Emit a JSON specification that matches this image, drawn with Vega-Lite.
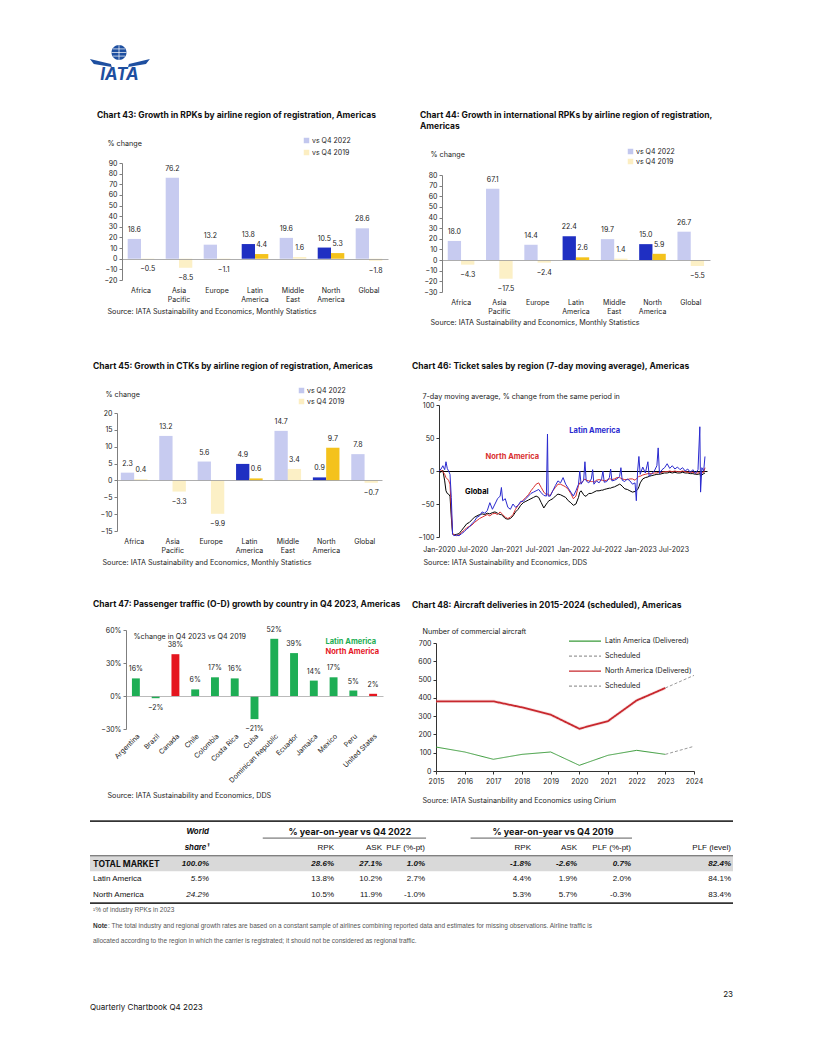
{
"$schema":"https://vega.github.io/schema/vega-lite/v6.json",
"padding":0,
"background":"white",
"columns":4,
"align":"none",
"bounds":"flush",
"spacing":0,
"resolve":{"scale":{"color":"independent","strokeDash":"independent","opacity":"independent"},"legend":{"color":"independent","strokeDash":"independent"}},
"config":{
 "view":{"stroke":null},
 "font":"Inter",
 "axis":{"labelFontSize":7,"labelColor":"#222","titleColor":"#222","titleFontSize":7.2,"titleFontWeight":"normal","domainColor":"#7f7f7f","tickColor":"#7f7f7f","tickSize":3,"grid":false,"labelPadding":2},
 "legend":{"labelFontSize":7,"labelColor":"#222"},
 "title":{"fontSize":8.5,"fontWeight":"bold","anchor":"start","frame":"group","color":"#111"},
 "text":{"fontSize":7,"color":"#222"},
 "point":{"opacity":1}
},
"concat":[
 {"width":117,"height":1,"data":{"values":[]},"mark":"point"},
 {"width":1,"height":114,"data":{"values":[{}]},"layer":[
   {"mark":{"type":"point","shape":"M-0.92,0.07L-0.22,0.23L-0.19,0.33L-0.79,0.23ZM1.08,0.07L0.38,0.23L0.35,0.33L0.95,0.23Z","size":3600,"filled":true,"color":"#1E4FA0","strokeWidth":0}},
   {"mark":{"type":"point","shape":"M-0.2,-0.15A0.25,0.25 0 1,0 0.3,-0.15A0.25,0.25 0 1,0 -0.2,-0.15Z","size":3600,"filled":true,"color":"#1E4FA0","strokeWidth":0}},
   {"mark":{"type":"point","shape":"M-0.2,-0.15H0.3M0.05,-0.4V0.1M-0.16,-0.27H0.26M-0.16,-0.03H0.26","size":3600,"filled":false,"color":"white","strokeWidth":0.7}},
   {"mark":{"type":"text","text":"IATA","fontSize":17,"fontWeight":"bold","fontStyle":"italic","color":"#1E4FA0","dy":18,"dx":2}}
 ]},
 {"width":48,"height":1,"data":{"values":[]},"mark":"point"},
 {"width":1,"height":1,"data":{"values":[]},"mark":"point"},

 {"width":1,"height":1,"data":{"values":[]},"mark":"point"},
 {"width":1,"height":49,"data":{"values":[]},"mark":"point"},
 {"width":1,"height":1,"data":{"values":[]},"mark":"point"},
 {"width":1,"height":1,"data":{"values":[]},"mark":"point"},

 {"width":1,"height":1,"data":{"values":[]},"mark":"point"},
 {"width":271,"height":117,
  "title":{"text":"Chart 43: Growth in RPKs by airline region of registration, Americas","dx":-20,"offset":18},
  "data":{"values":[
   {"region":"Africa","s":"vs Q4 2022","v":18.6},{"region":"Africa","s":"vs Q4 2019","v":-0.5},
   {"region":"Asia Pacific","s":"vs Q4 2022","v":76.2},{"region":"Asia Pacific","s":"vs Q4 2019","v":-8.5},
   {"region":"Europe","s":"vs Q4 2022","v":13.2},{"region":"Europe","s":"vs Q4 2019","v":-1.1},
   {"region":"Latin America","s":"vs Q4 2022","v":13.8},{"region":"Latin America","s":"vs Q4 2019","v":4.4},
   {"region":"Middle East","s":"vs Q4 2022","v":19.6},{"region":"Middle East","s":"vs Q4 2019","v":1.6},
   {"region":"North America","s":"vs Q4 2022","v":10.5},{"region":"North America","s":"vs Q4 2019","v":5.3},
   {"region":"Global","s":"vs Q4 2022","v":28.6},{"region":"Global","s":"vs Q4 2019","v":-1.8}]},
  "encoding":{
   "x":{"field":"region","type":"nominal","sort":null,"scale":{"range":[5,271],"paddingInner":0.3,"paddingOuter":0.15},
     "axis":{"title":"Source: IATA Sustainability and Economics,  Monthly Statistics","titleX":-10,"titleY":31,"titleAlign":"left","titleAnchor":"start","titleBaseline":"middle","labelAngle":0,"labelExpr":"split(datum.label,' ')","domain":false,"ticks":false,"labelPadding":6,"labelBaseline":"top","labelLineHeight":9.5}},
   "xOffset":{"field":"s","type":"nominal","sort":["vs Q4 2022","vs Q4 2019"]},
   "y":{"field":"v","type":"quantitative","scale":{"domain":[-20,90],"nice":false,"zero":false},
     "axis":{"offset":-5,"title":"% change","titleAngle":0,"titleX":-15,"titleY":-20,"titleAlign":"left","titleAnchor":"start","titleBaseline":"middle","values":[-20,-10,0,10,20,30,40,50,60,70,80,90],"grid":true,"gridColor":"#999","gridWidth":0.8,"gridOpacity":{"condition":{"test":"datum.value===0","value":1},"value":0},"zindex":1}}
  },
  "layer":[
   {"mark":"bar","encoding":{
     "color":{"field":"s","type":"nominal","scale":{"domain":["vs Q4 2022","vs Q4 2019"],"range":["#1F2FC2","#F4C21C"]},"legend":{"title":null,"orient":"none","legendX":186,"legendY":-26,"symbolType":"square","symbolSize":30,"symbolOpacity":0.27,"symbolStrokeWidth":0,"rowPadding":4,"labelOffset":2}},
     "opacity":{"condition":{"test":"datum.region==='Latin America'||datum.region==='North America'","value":1},"value":0.25}}},
   {"transform":[{"filter":"datum.v>=0"}],"mark":{"type":"text","baseline":"bottom","dy":-6},"encoding":{"text":{"field":"v","type":"quantitative","format":".1f"}}},
   {"transform":[{"filter":"datum.v<0"}],"mark":{"type":"text","baseline":"top","dy":6},"encoding":{"text":{"field":"v","type":"quantitative","format":".1f"}}}
  ]},
 {"width":1,"height":1,"data":{"values":[]},"mark":"point"},
 {"width":274,"height":129,
  "title":{"text":["Chart 44: Growth in international RPKs by airline region of registration,","Americas"],"dx":-16,"offset":18,"lineHeight":11},
  "data":{"values":[
   {"region":"Africa","s":"vs Q4 2022","v":18.0},{"region":"Africa","s":"vs Q4 2019","v":-4.3},
   {"region":"Asia Pacific","s":"vs Q4 2022","v":67.1},{"region":"Asia Pacific","s":"vs Q4 2019","v":-17.5},
   {"region":"Europe","s":"vs Q4 2022","v":14.4},{"region":"Europe","s":"vs Q4 2019","v":-2.4},
   {"region":"Latin America","s":"vs Q4 2022","v":22.4},{"region":"Latin America","s":"vs Q4 2019","v":2.6},
   {"region":"Middle East","s":"vs Q4 2022","v":19.7},{"region":"Middle East","s":"vs Q4 2019","v":1.4},
   {"region":"North America","s":"vs Q4 2022","v":15.0},{"region":"North America","s":"vs Q4 2019","v":5.9},
   {"region":"Global","s":"vs Q4 2022","v":26.7},{"region":"Global","s":"vs Q4 2019","v":-5.5}]},
  "encoding":{
   "x":{"field":"region","type":"nominal","sort":null,"scale":{"range":[6,274],"paddingInner":0.3,"paddingOuter":0.15},
     "axis":{"title":"Source: IATA Sustainability and Economics,  Monthly Statistics","titleX":-6,"titleY":30,"titleAlign":"left","titleAnchor":"start","titleBaseline":"middle","labelAngle":0,"labelExpr":"split(datum.label,' ')","domain":false,"ticks":false,"labelPadding":6,"labelBaseline":"top","labelLineHeight":9.5}},
   "xOffset":{"field":"s","type":"nominal","sort":["vs Q4 2022","vs Q4 2019"]},
   "y":{"field":"v","type":"quantitative","scale":{"domain":[-30,80],"range":[129,12],"nice":false,"zero":false},
     "axis":{"offset":-6,"title":"% change","titleAngle":0,"titleX":-12,"titleY":-9,"titleAlign":"left","titleAnchor":"start","titleBaseline":"middle","values":[-30,-20,-10,0,10,20,30,40,50,60,70,80],"grid":true,"gridColor":"#999","gridWidth":0.8,"gridOpacity":{"condition":{"test":"datum.value===0","value":1},"value":0},"zindex":1}}
  },
  "layer":[
   {"mark":"bar","encoding":{
     "color":{"field":"s","type":"nominal","scale":{"domain":["vs Q4 2022","vs Q4 2019"],"range":["#1F2FC2","#F4C21C"]},"legend":{"title":null,"orient":"none","legendX":191,"legendY":-15,"symbolType":"square","symbolSize":30,"symbolOpacity":0.27,"symbolStrokeWidth":0,"rowPadding":2,"labelOffset":2}},
     "opacity":{"condition":{"test":"datum.region==='Latin America'||datum.region==='North America'","value":1},"value":0.25}}},
   {"transform":[{"filter":"datum.v>=0"}],"mark":{"type":"text","baseline":"bottom","dy":-6},"encoding":{"text":{"field":"v","type":"quantitative","format":".1f"}}},
   {"transform":[{"filter":"datum.v<0"}],"mark":{"type":"text","baseline":"top","dy":6},"encoding":{"text":{"field":"v","type":"quantitative","format":".1f"}}}
  ]},

 {"width":1,"height":1,"data":{"values":[]},"mark":"point"},
 {"width":1,"height":113,"data":{"values":[]},"mark":"point"},
 {"width":1,"height":1,"data":{"values":[]},"mark":"point"},
 {"width":1,"height":1,"data":{"values":[]},"mark":"point"},

 {"width":1,"height":1,"data":{"values":[]},"mark":"point"},
 {"width":265,"height":126,
  "title":{"text":"Chart 45: Growth in CTKs by airline region of registration, Americas","dx":-24,"offset":17},
  "data":{"values":[
   {"region":"Africa","s":"vs Q4 2022","v":2.3},{"region":"Africa","s":"vs Q4 2019","v":0.4},
   {"region":"Asia Pacific","s":"vs Q4 2022","v":13.2},{"region":"Asia Pacific","s":"vs Q4 2019","v":-3.3},
   {"region":"Europe","s":"vs Q4 2022","v":5.6},{"region":"Europe","s":"vs Q4 2019","v":-9.9},
   {"region":"Latin America","s":"vs Q4 2022","v":4.9},{"region":"Latin America","s":"vs Q4 2019","v":0.6},
   {"region":"Middle East","s":"vs Q4 2022","v":14.7},{"region":"Middle East","s":"vs Q4 2019","v":3.4},
   {"region":"North America","s":"vs Q4 2022","v":0.9},{"region":"North America","s":"vs Q4 2019","v":9.7},
   {"region":"Global","s":"vs Q4 2022","v":7.8},{"region":"Global","s":"vs Q4 2019","v":-0.7}]},
  "encoding":{
   "x":{"field":"region","type":"nominal","sort":null,"scale":{"paddingInner":0.3,"paddingOuter":0.1},
     "axis":{"title":"Source: IATA Sustainability and Economics,  Monthly Statistics","titleX":-15,"titleY":31,"titleAlign":"left","titleAnchor":"start","titleBaseline":"middle","labelAngle":0,"labelExpr":"split(datum.label,' ')","domain":false,"ticks":false,"labelPadding":6,"labelBaseline":"top","labelLineHeight":9.5}},
   "xOffset":{"field":"s","type":"nominal","sort":["vs Q4 2022","vs Q4 2019"]},
   "y":{"field":"v","type":"quantitative","scale":{"domain":[-15,20],"range":[126,8],"nice":false,"zero":false},
     "axis":{"title":"% change","titleAngle":0,"titleX":-12,"titleY":-11,"titleAlign":"left","titleAnchor":"start","titleBaseline":"middle","values":[-15,-10,-5,0,5,10,15,20],"grid":true,"gridColor":"#999","gridWidth":0.8,"gridOpacity":{"condition":{"test":"datum.value===0","value":1},"value":0},"zindex":1}}
  },
  "layer":[
   {"mark":"bar","encoding":{
     "color":{"field":"s","type":"nominal","scale":{"domain":["vs Q4 2022","vs Q4 2019"],"range":["#1F2FC2","#F4C21C"]},"legend":{"title":null,"orient":"none","legendX":181,"legendY":-18,"symbolType":"square","symbolSize":30,"symbolOpacity":0.27,"symbolStrokeWidth":0,"rowPadding":3,"labelOffset":2}},
     "opacity":{"condition":{"test":"datum.region==='Latin America'||datum.region==='North America'","value":1},"value":0.25}}},
   {"transform":[{"filter":"datum.v>=0"}],"mark":{"type":"text","baseline":"bottom","dy":-6},"encoding":{"text":{"field":"v","type":"quantitative","format":".1f"}}},
   {"transform":[{"filter":"datum.v<0"}],"mark":{"type":"text","baseline":"top","dy":6},"encoding":{"text":{"field":"v","type":"quantitative","format":".1f"}}}
  ]},
 {"width":1,"height":1,"data":{"values":[]},"mark":"point"},
 {"width":271,"height":132,
  "title":{"text":"Chart 46: Ticket sales by region (7-day moving average), Americas","dx":-24,"offset":22},
  "data":{"values":[
   {"d":"2020-01-01","g":0,"n":0,"l":0},{"d":"2020-01-12","g":-2,"n":2,"l":3},{"d":"2020-01-22","g":1,"n":-1,"l":8},
   {"d":"2020-02-01","g":-15,"n":-5,"l":2},{"d":"2020-02-08","g":-30,"n":-10,"l":14},{"d":"2020-02-15","g":-34,"n":-12,"l":4},
   {"d":"2020-02-22","g":-35,"n":-14,"l":0},{"d":"2020-03-01","g":-38,"n":-20,"l":-5},{"d":"2020-03-08","g":-70,"n":-60,"l":-40},
   {"d":"2020-03-15","g":-95,"n":-94,"l":-96},{"d":"2020-03-22","g":-97,"n":-97,"l":-98},{"d":"2020-04-05","g":-96,"n":-98,"l":-97},
   {"d":"2020-04-19","g":-95,"n":-97,"l":-98},{"d":"2020-05-03","g":-90,"n":-93,"l":-95},{"d":"2020-05-17","g":-85,"n":-90,"l":-92},
   {"d":"2020-05-31","g":-80,"n":-86,"l":-88},{"d":"2020-06-14","g":-78,"n":-84,"l":-85},{"d":"2020-06-28","g":-74,"n":-82,"l":-80},
   {"d":"2020-07-12","g":-70,"n":-78,"l":-76},{"d":"2020-07-26","g":-68,"n":-75,"l":-70},{"d":"2020-08-09","g":-66,"n":-72,"l":-68},
   {"d":"2020-08-23","g":-65,"n":-70,"l":-62},{"d":"2020-09-06","g":-66,"n":-68,"l":-64},{"d":"2020-09-20","g":-64,"n":-66,"l":-60},
   {"d":"2020-10-04","g":-65,"n":-68,"l":-48},{"d":"2020-10-18","g":-63,"n":-65,"l":-58},{"d":"2020-11-01","g":-62,"n":-64,"l":-50},
   {"d":"2020-11-15","g":-64,"n":-66,"l":-42},{"d":"2020-11-29","g":-66,"n":-62,"l":-38},{"d":"2020-12-06","g":-66,"n":-64,"l":-25},
   {"d":"2020-12-13","g":-68,"n":-66,"l":-45},{"d":"2020-12-27","g":-72,"n":-70,"l":-42},{"d":"2021-01-10","g":-73,"n":-72,"l":-55},
   {"d":"2021-01-24","g":-72,"n":-70,"l":-58},{"d":"2021-02-07","g":-68,"n":-66,"l":-50},{"d":"2021-02-21","g":-62,"n":-58,"l":-55},
   {"d":"2021-03-07","g":-58,"n":-52,"l":-52},{"d":"2021-03-21","g":-52,"n":-48,"l":-46},{"d":"2021-04-04","g":-48,"n":-44,"l":-46},
   {"d":"2021-04-18","g":-46,"n":-40,"l":-42},{"d":"2021-05-02","g":-44,"n":-36,"l":-38},{"d":"2021-05-16","g":-42,"n":-30,"l":-34},
   {"d":"2021-05-30","g":-40,"n":-25,"l":-32},{"d":"2021-06-13","g":-38,"n":-20,"l":-30},{"d":"2021-06-27","g":-40,"n":-18,"l":-28},
   {"d":"2021-07-11","g":-48,"n":-25,"l":-33},{"d":"2021-07-25","g":-56,"n":-32,"l":-37},{"d":"2021-08-08","g":-50,"n":-36,"l":-38},
   {"d":"2021-08-14","g":-48,"n":-35,"l":56},{"d":"2021-08-18","g":-46,"n":-36,"l":-38},{"d":"2021-08-29","g":-44,"n":-37,"l":-38},
   {"d":"2021-09-12","g":-42,"n":-30,"l":-30},{"d":"2021-09-26","g":-38,"n":-25,"l":-22},{"d":"2021-10-10","g":-35,"n":-20,"l":-15},
   {"d":"2021-10-24","g":-36,"n":-20,"l":-18},{"d":"2021-11-07","g":-38,"n":-22,"l":-10},{"d":"2021-11-21","g":-40,"n":-24,"l":-20},
   {"d":"2021-12-05","g":-45,"n":-28,"l":-26},{"d":"2021-12-19","g":-48,"n":-34,"l":-32},{"d":"2022-01-02","g":-52,"n":-42,"l":-38},
   {"d":"2022-01-16","g":-50,"n":-38,"l":-30},{"d":"2022-01-30","g":-40,"n":-22,"l":-20},{"d":"2022-02-06","g":-32,"n":-18,"l":0},
   {"d":"2022-02-13","g":-30,"n":-18,"l":-20},{"d":"2022-02-27","g":-36,"n":-14,"l":-14},{"d":"2022-03-06","g":-38,"n":-12,"l":14},
   {"d":"2022-03-13","g":-38,"n":-14,"l":-15},{"d":"2022-03-27","g":-34,"n":-15,"l":-18},{"d":"2022-04-10","g":-34,"n":-16,"l":-12},
   {"d":"2022-04-17","g":-33,"n":-16,"l":2},{"d":"2022-04-24","g":-32,"n":-17,"l":-20},{"d":"2022-05-08","g":-30,"n":-14,"l":-15},
   {"d":"2022-05-22","g":-30,"n":-13,"l":-18},{"d":"2022-06-05","g":-29,"n":-14,"l":-12},{"d":"2022-06-12","g":-29,"n":-14,"l":0},
   {"d":"2022-06-19","g":-28,"n":-15,"l":-17},{"d":"2022-07-03","g":-27,"n":-14,"l":-16},{"d":"2022-07-17","g":-26,"n":-12,"l":-10},
   {"d":"2022-07-24","g":-26,"n":-12,"l":3},{"d":"2022-07-31","g":-25,"n":-13,"l":-15},{"d":"2022-08-14","g":-24,"n":-12,"l":-14},
   {"d":"2022-08-28","g":-22,"n":-10,"l":-12},{"d":"2022-09-11","g":-20,"n":-10,"l":-8},{"d":"2022-09-18","g":-21,"n":-11,"l":5},
   {"d":"2022-09-25","g":-23,"n":-12,"l":-14},{"d":"2022-10-09","g":-27,"n":-13,"l":-16},{"d":"2022-10-23","g":-28,"n":-13,"l":-12},
   {"d":"2022-11-06","g":-30,"n":-12,"l":-15},{"d":"2022-11-20","g":-32,"n":-12,"l":-20},{"d":"2022-12-04","g":-31,"n":-14,"l":-18},
   {"d":"2022-12-11","g":-30,"n":-12,"l":-45},{"d":"2022-12-18","g":-28,"n":-10,"l":0},{"d":"2022-12-25","g":-24,"n":-8,"l":22},
   {"d":"2023-01-01","g":-18,"n":-8,"l":-5},{"d":"2023-01-15","g":-12,"n":-6,"l":6},{"d":"2023-01-29","g":-10,"n":-5,"l":-3},
   {"d":"2023-02-12","g":-9,"n":-4,"l":14},{"d":"2023-02-19","g":-8,"n":-4,"l":-8},{"d":"2023-03-05","g":-7,"n":-4,"l":-4},
   {"d":"2023-03-19","g":-6,"n":-3,"l":0},{"d":"2023-04-02","g":-5,"n":-3,"l":8},{"d":"2023-04-09","g":-5,"n":-2,"l":35},
   {"d":"2023-04-16","g":-5,"n":-3,"l":-4},{"d":"2023-04-30","g":-4,"n":-2,"l":2},{"d":"2023-05-14","g":-3,"n":-1,"l":5},
   {"d":"2023-05-28","g":-3,"n":-1,"l":11},{"d":"2023-06-11","g":-2,"n":0,"l":4},{"d":"2023-06-25","g":-3,"n":-1,"l":8},
   {"d":"2023-07-09","g":-2,"n":0,"l":3},{"d":"2023-07-23","g":-3,"n":-1,"l":6},{"d":"2023-08-06","g":-3,"n":-1,"l":2},
   {"d":"2023-08-20","g":-2,"n":0,"l":5},{"d":"2023-09-03","g":-3,"n":-1,"l":0},{"d":"2023-09-17","g":-3,"n":-2,"l":3},
   {"d":"2023-10-01","g":-4,"n":-2,"l":-2},{"d":"2023-10-15","g":-4,"n":-2,"l":2},{"d":"2023-10-29","g":-5,"n":-3,"l":-4},
   {"d":"2023-11-12","g":-5,"n":-3,"l":2},{"d":"2023-11-22","g":-4,"n":-2,"l":67},{"d":"2023-11-26","g":-8,"n":-4,"l":-32},
   {"d":"2023-12-03","g":-6,"n":-3,"l":5},{"d":"2023-12-13","g":-4,"n":-2,"l":0},{"d":"2023-12-20","g":-3,"n":5,"l":22}]},
  "transform":[{"fold":["g","n","l"],"as":["s","val"]}],
  "encoding":{
   "x":{"field":"d","type":"temporal","scale":{"type":"utc","range":[3,271],"domain":[{"year":2020,"month":1,"date":1,"utc":true},{"year":2023,"month":12,"date":31,"utc":true}]},
     "axis":{"values":[{"year":2020,"month":1,"date":1,"utc":true},{"year":2020,"month":7,"date":1,"utc":true},{"year":2021,"month":1,"date":1,"utc":true},{"year":2021,"month":7,"date":1,"utc":true},{"year":2022,"month":1,"date":1,"utc":true},{"year":2022,"month":7,"date":1,"utc":true},{"year":2023,"month":1,"date":1,"utc":true},{"year":2023,"month":7,"date":1,"utc":true}],
       "format":"%b-%Y","labelFlush":false,"labelOverlap":false,"domain":false,"ticks":false,"labelPadding":8,
       "title":"Source: IATA Sustainability and Economics, DDS","titleX":-13,"titleY":25,"titleAlign":"left","titleAnchor":"start","titleBaseline":"middle"}},
   "y":{"field":"val","type":"quantitative","scale":{"domain":[-100,100],"nice":false},
      "axis":{"offset":-3,"values":[-100,-50,0,50,100],"labelOverlap":false,"title":"7-day moving average, % change from the same period in","titleAngle":0,"titleX":-17,"titleY":-9,"titleAlign":"left","titleAnchor":"start","titleBaseline":"middle","domainColor":"#333","tickColor":"#333","grid":true,"gridColor":"#000","gridWidth":1,"gridOpacity":{"condition":{"test":"datum.value===0","value":1},"value":0}}}
  },
  "layer":[
   {"mark":{"type":"line","strokeWidth":1},"encoding":{"color":{"field":"s","type":"nominal","scale":{"domain":["g","n","l"],"range":["#000000","#D93030","#2A2ACF"]},"legend":null}}},
   {"transform":[{"filter":"datum.g===0&&datum.n===0&&datum.s==='g'"}],"mark":{"type":"text","fontWeight":"bold","fontSize":7.5,"color":"#2A2ACF"},"encoding":{"x":{"datum":{"year":2022,"month":4,"date":28,"utc":true},"type":"temporal"},"y":{"datum":60,"type":"quantitative"},"text":{"value":"Latin America"}}},
   {"transform":[{"filter":"datum.g===0&&datum.n===0&&datum.s==='g'"}],"mark":{"type":"text","fontWeight":"bold","fontSize":7.5,"color":"#D93030"},"encoding":{"x":{"datum":{"year":2021,"month":2,"date":3,"utc":true},"type":"temporal"},"y":{"datum":21,"type":"quantitative"},"text":{"value":"North America"}}},
   {"transform":[{"filter":"datum.g===0&&datum.n===0&&datum.s==='g'"}],"mark":{"type":"text","fontWeight":"bold","fontSize":7.5,"color":"#000"},"encoding":{"x":{"datum":{"year":2020,"month":7,"date":25,"utc":true},"type":"temporal"},"y":{"datum":-32,"type":"quantitative"},"text":{"value":"Global"}}}
  ]},

 {"width":1,"height":1,"data":{"values":[]},"mark":"point"},
 {"width":1,"height":93,"data":{"values":[]},"mark":"point"},
 {"width":1,"height":1,"data":{"values":[]},"mark":"point"},
 {"width":1,"height":1,"data":{"values":[]},"mark":"point"},

 {"width":1,"height":1,"data":{"values":[]},"mark":"point"},
 {"width":266,"height":99,
  "title":{"text":"Chart 47: Passenger traffic (O-D) growth by country in Q4 2023, Americas","dx":-24,"offset":17},
  "data":{"values":[
   {"country":"Argentina","g":"Latin America","v":0.16},{"country":"Brazil","g":"Latin America","v":-0.02},
   {"country":"Canada","g":"North America","v":0.38},{"country":"Chile","g":"Latin America","v":0.06},
   {"country":"Colombia","g":"Latin America","v":0.17},{"country":"Costa Rica","g":"Latin America","v":0.16},
   {"country":"Cuba","g":"Latin America","v":-0.21},{"country":"Dominican Republic","g":"Latin America","v":0.52},
   {"country":"Ecuador","g":"Latin America","v":0.39},{"country":"Jamaica","g":"Latin America","v":0.14},
   {"country":"Mexico","g":"Latin America","v":0.17},{"country":"Peru","g":"Latin America","v":0.05},
   {"country":"United States","g":"North America","v":0.02}]},
  "encoding":{
   "x":{"field":"country","type":"nominal","sort":null,"scale":{"range":[9,266],"paddingInner":0.6,"paddingOuter":0.3},
     "axis":{"labelAngle":-45,"domain":false,"ticks":false,"labelPadding":3,"labelFontSize":7,
       "title":"Source: IATA Sustainability and Economics, DDS","titleX":-10,"titleY":66,"titleAlign":"left","titleAnchor":"start","titleBaseline":"middle"}},
   "y":{"field":"v","type":"quantitative","scale":{"domain":[-0.3,0.6],"nice":false,"zero":false},
     "axis":{"offset":-9,"values":[-0.3,0,0.3,0.6],"format":".0%","title":"%change in Q4 2023 vs Q4 2019","titleAngle":0,"titleX":7,"titleY":6,"titleAlign":"left","titleAnchor":"start","titleBaseline":"middle","grid":true,"gridColor":"#aaa","gridWidth":0.8,"gridOpacity":{"condition":{"test":"datum.value===0","value":1},"value":0},"zindex":1}}
  },
  "layer":[
   {"mark":"bar","encoding":{"color":{"field":"g","type":"nominal","scale":{"domain":["Latin America","North America"],"range":["#1EAE55","#E5161F"]},
     "legend":{"title":null,"orient":"none","legendX":201,"legendY":8,"symbolSize":1,"symbolOpacity":0,"labelOffset":0,"rowPadding":1.5,"labelFontSize":7.5,"labelFontWeight":"bold",
       "encode":{"labels":{"update":{"fill":{"signal":"datum.value==='North America'?'#E5161F':'#1EAE55'"}}}}}}}},
   {"transform":[{"filter":"datum.v>=0"}],"mark":{"type":"text","baseline":"bottom","dy":-6},"encoding":{"text":{"field":"v","type":"quantitative","format":".0%"}}},
   {"transform":[{"filter":"datum.v<0"}],"mark":{"type":"text","baseline":"top","dy":6},"encoding":{"text":{"field":"v","type":"quantitative","format":".0%"}}}
  ]},
 {"width":1,"height":1,"data":{"values":[]},"mark":"point"},
 {"width":258,"height":141,
  "title":{"text":"Chart 48: Aircraft deliveries in 2015-2024 (scheduled), Americas","dx":-24,"offset":18},
  "data":{"values":[
   {"year":2015,"series":"Latin America (Delivered)","v":131},{"year":2016,"series":"Latin America (Delivered)","v":104},
   {"year":2017,"series":"Latin America (Delivered)","v":64},{"year":2018,"series":"Latin America (Delivered)","v":91},
   {"year":2019,"series":"Latin America (Delivered)","v":104},{"year":2020,"series":"Latin America (Delivered)","v":31},
   {"year":2021,"series":"Latin America (Delivered)","v":86},{"year":2022,"series":"Latin America (Delivered)","v":113},
   {"year":2023,"series":"Latin America (Delivered)","v":91},
   {"year":2023,"series":"Latin America (Scheduled)","v":91},{"year":2024,"series":"Latin America (Scheduled)","v":135},
   {"year":2015,"series":"North America (Delivered)","v":381},{"year":2016,"series":"North America (Delivered)","v":381},
   {"year":2017,"series":"North America (Delivered)","v":381},{"year":2018,"series":"North America (Delivered)","v":348},
   {"year":2019,"series":"North America (Delivered)","v":308},{"year":2020,"series":"North America (Delivered)","v":231},
   {"year":2021,"series":"North America (Delivered)","v":273},{"year":2022,"series":"North America (Delivered)","v":386},
   {"year":2023,"series":"North America (Delivered)","v":454},
   {"year":2023,"series":"North America (Scheduled)","v":454},{"year":2024,"series":"North America (Scheduled)","v":523}]},
  "encoding":{
   "x":{"field":"year","type":"quantitative","scale":{"domain":[2015,2024],"nice":false,"zero":false},
     "axis":{"values":[2015,2016,2017,2018,2019,2020,2021,2022,2023,2024],"format":"d","labelFlush":false,"labelPadding":3,"domainColor":"#333","tickColor":"#333",
       "title":"Source: IATA Sustainanbility and Economics using Cirium","titleX":-14,"titleY":29,"titleAlign":"left","titleAnchor":"start","titleBaseline":"middle"}},
   "y":{"field":"v","type":"quantitative","scale":{"domain":[0,700],"range":[141,13],"nice":false},
     "axis":{"values":[0,100,200,300,400,500,600,700],"domainColor":"#333","tickColor":"#333","title":"Number of commercial aircraft","titleAngle":0,"titleX":-14,"titleY":1,"titleAlign":"left","titleAnchor":"start","titleBaseline":"middle"}}
  },
  "layer":[
   {"transform":[{"filter":"datum.series==='North America (Delivered)'"}],"mark":{"type":"line","color":"#EBA5A5","strokeWidth":3.5,"opacity":0.3}},
   {"mark":{"type":"line"},"encoding":{
     "color":{"field":"series","type":"nominal","scale":{"domain":["Latin America (Delivered)","Latin America (Scheduled)","North America (Delivered)","North America (Scheduled)"],"range":["#3A9B3A","#9A9A9A","#C8282E","#9A9A9A"]},
       "legend":{"title":null,"orient":"none","legendX":132,"legendY":4,"symbolType":"stroke","symbolSize":1024,"symbolStrokeWidth":1.3,"clipHeight":14.3,"rowPadding":0,"labelOffset":3,"labelExpr":"indexof(datum.label,'Scheduled')>=0?'Scheduled':datum.label"}},
     "strokeDash":{"field":"series","type":"nominal","scale":{"domain":["Latin America (Delivered)","Latin America (Scheduled)","North America (Delivered)","North America (Scheduled)"],"range":[[1,0],[3,2],[1,0],[3,2]]},
       "legend":{"title":null,"orient":"none","legendX":132,"legendY":4,"symbolType":"stroke","symbolSize":1024,"symbolStrokeWidth":1.3,"clipHeight":14.3,"rowPadding":0,"labelOffset":3,"labelExpr":"indexof(datum.label,'Scheduled')>=0?'Scheduled':datum.label"}},
     "strokeWidth":{"condition":{"test":"datum.series==='North America (Delivered)'","value":1.8},"value":1}}}
  ]},

 {"width":1,"height":1,"data":{"values":[]},"mark":"point"},
 {"width":1,"height":44,"data":{"values":[]},"mark":"point"},
 {"width":1,"height":1,"data":{"values":[]},"mark":"point"},
 {"width":1,"height":1,"data":{"values":[]},"mark":"point"},

 {"width":1,"height":1,"data":{"values":[]},"mark":"point"},
 {"width":1,"height":200,
  "data":{"values":[
   {"r":0,"c":1,"t":"World"},
   {"r":1,"c":1,"t":"share¹"},{"r":1,"c":2,"t":"RPK"},{"r":1,"c":3,"t":"ASK"},{"r":1,"c":4,"t":"PLF (%-pt)"},{"r":1,"c":5,"t":"RPK"},{"r":1,"c":6,"t":"ASK"},{"r":1,"c":7,"t":"PLF (%-pt)"},{"r":1,"c":8,"t":"PLF (level)"},
   {"r":2,"c":0,"t":"TOTAL MARKET"},{"r":2,"c":1,"t":"100.0%"},{"r":2,"c":2,"t":"28.6%"},{"r":2,"c":3,"t":"27.1%"},{"r":2,"c":4,"t":"1.0%"},{"r":2,"c":5,"t":"-1.8%"},{"r":2,"c":6,"t":"-2.6%"},{"r":2,"c":7,"t":"0.7%"},{"r":2,"c":8,"t":"82.4%"},
   {"r":3,"c":0,"t":"Latin America"},{"r":3,"c":1,"t":"5.5%"},{"r":3,"c":2,"t":"13.8%"},{"r":3,"c":3,"t":"10.2%"},{"r":3,"c":4,"t":"2.7%"},{"r":3,"c":5,"t":"4.4%"},{"r":3,"c":6,"t":"1.9%"},{"r":3,"c":7,"t":"2.0%"},{"r":3,"c":8,"t":"84.1%"},
   {"r":4,"c":0,"t":"North America"},{"r":4,"c":1,"t":"24.2%"},{"r":4,"c":2,"t":"10.5%"},{"r":4,"c":3,"t":"11.9%"},{"r":4,"c":4,"t":"-1.0%"},{"r":4,"c":5,"t":"5.3%"},{"r":4,"c":6,"t":"5.7%"},{"r":4,"c":7,"t":"-0.3%"},{"r":4,"c":8,"t":"83.4%"},
   {"r":5,"c":0,"t":"¹% of industry RPKs in 2023"},
   {"r":6,"c":0,"t":"Note"},
   {"r":6,"c":0,"t":": The total industry and regional growth rates are based on a constant sample of airlines combining reported data and estimates for missing observations. Airline traffic is"},
   {"r":7,"c":0,"t":"allocated according to the region in which the carrier is registrated; it should not be considered as regional traffic."}]},
  "encoding":{
   "x":{"field":"c","type":"quantitative","scale":{"domain":[-1,0,1,2,3,4,5,6,7,8,9],"range":[-27,-24,92,217,265,308,414,460,514,614,616],"nice":false,"zero":false},"axis":null},
   "y":{"field":"r","type":"quantitative","scale":{"domain":[-1.129,11.774],"reverse":true,"nice":false,"zero":false},"axis":null}
  },
  "layer":[
   {"transform":[{"filter":"datum.r===0"}],"mark":{"type":"rect","color":"#D9D9D9"},"encoding":{"x":{"datum":-1,"type":"quantitative"},"x2":{"datum":9},"y":{"datum":1.5,"type":"quantitative"},"y2":{"datum":2.5}}},
   {"transform":[{"filter":"datum.r===0"}],"mark":{"type":"rule","color":"#333","strokeWidth":1.8},"encoding":{"x":{"datum":-1,"type":"quantitative"},"x2":{"datum":9},"y":{"datum":-0.74,"type":"quantitative"}}},
   {"transform":[{"filter":"datum.r===0"}],"mark":{"type":"rule","color":"#333","strokeWidth":0.8},"encoding":{"x":{"datum":-1,"type":"quantitative"},"x2":{"datum":9},"y":{"datum":1.5,"type":"quantitative"}}},
   {"transform":[{"filter":"datum.r===0"}],"mark":{"type":"rule","color":"#333","strokeWidth":1.8},"encoding":{"x":{"datum":-1,"type":"quantitative"},"x2":{"datum":9},"y":{"datum":4.55,"type":"quantitative"}}},
   {"transform":[{"filter":"datum.r===0"}],"mark":{"type":"rule","color":"#333","strokeWidth":0.8},"encoding":{"x":{"datum":1.43,"type":"quantitative"},"x2":{"datum":4.01},"y":{"datum":0.36,"type":"quantitative"}}},
   {"transform":[{"filter":"datum.r===0"}],"mark":{"type":"rule","color":"#333","strokeWidth":0.8},"encoding":{"x":{"datum":4.43,"type":"quantitative"},"x2":{"datum":7.01},"y":{"datum":0.36,"type":"quantitative"}}},
   {"transform":[{"filter":"datum.r===0"}],"mark":{"type":"text","align":"center","fontWeight":"bold","fontSize":9,"color":"#111"},"encoding":{"x":{"datum":2.33,"type":"quantitative"},"y":{"datum":0,"type":"quantitative"},"text":{"value":"% year-on-year vs Q4 2022"}}},
   {"transform":[{"filter":"datum.r===0"}],"mark":{"type":"text","align":"center","fontWeight":"bold","fontSize":9,"color":"#111"},"encoding":{"x":{"datum":5.48,"type":"quantitative"},"y":{"datum":0,"type":"quantitative"},"text":{"value":"% year-on-year vs Q4 2019"}}},
   {"transform":[{"filter":"datum.c===1&&datum.r<=1"}],"mark":{"type":"text","align":"right","fontWeight":"bold","fontStyle":"italic","fontSize":7.8,"color":"#111"},"encoding":{"text":{"field":"t"}}},
   {"transform":[{"filter":"datum.r===1&&datum.c>=2"}],"mark":{"type":"text","align":"right","font":"Liberation Sans","fontSize":8,"color":"#111"},"encoding":{"text":{"field":"t"}}},
   {"transform":[{"filter":"datum.r===2&&datum.c===0"}],"mark":{"type":"text","align":"left","fontWeight":"bold","fontSize":8.5,"color":"#111"},"encoding":{"text":{"field":"t"}}},
   {"transform":[{"filter":"datum.r===2&&datum.c>=1"}],"mark":{"type":"text","align":"right","font":"Liberation Sans","fontWeight":"bold","fontStyle":"italic","fontSize":8,"color":"#111"},"encoding":{"text":{"field":"t"}}},
   {"transform":[{"filter":"datum.r>=3&&datum.r<=4&&datum.c===0"}],"mark":{"type":"text","align":"left","font":"Liberation Sans","fontSize":8,"color":"#111"},"encoding":{"text":{"field":"t"}}},
   {"transform":[{"filter":"datum.r>=3&&datum.r<=4&&datum.c===1"}],"mark":{"type":"text","align":"right","font":"Liberation Sans","fontStyle":"italic","fontSize":8,"color":"#111"},"encoding":{"text":{"field":"t"}}},
   {"transform":[{"filter":"datum.r>=3&&datum.r<=4&&datum.c>=2"}],"mark":{"type":"text","align":"right","font":"Liberation Sans","fontSize":8,"color":"#111"},"encoding":{"text":{"field":"t"}}},
   {"transform":[{"filter":"datum.r===5||datum.r===7"}],"mark":{"type":"text","align":"left","font":"Liberation Sans","fontSize":6.5,"color":"#555"},"encoding":{"text":{"field":"t"}}},
   {"transform":[{"filter":"datum.r===6&&datum.t==='Note'"}],"mark":{"type":"text","align":"left","font":"Liberation Sans","fontWeight":"bold","fontSize":6.5,"color":"#333"},"encoding":{"text":{"field":"t"}}},
   {"transform":[{"filter":"datum.r===6&&datum.t!=='Note'"}],"mark":{"type":"text","align":"left","font":"Liberation Sans","fontSize":6.5,"color":"#555","dx":15},"encoding":{"text":{"field":"t"}}},
   {"transform":[{"filter":"datum.r===0"}],"mark":{"type":"text","align":"right","fontSize":8,"color":"#111"},"encoding":{"x":{"datum":9,"type":"quantitative"},"y":{"datum":10.5,"type":"quantitative"},"text":{"value":"23"}}},
   {"transform":[{"filter":"datum.r===0"}],"mark":{"type":"text","align":"left","fontSize":8,"color":"#111"},"encoding":{"x":{"datum":-1,"type":"quantitative"},"y":{"datum":11.3,"type":"quantitative"},"text":{"value":"Quarterly Chartbook Q4 2023"}}}
  ]},
 {"width":1,"height":1,"data":{"values":[]},"mark":"point"},
 {"width":1,"height":1,"data":{"values":[]},"mark":"point"}
]
}
